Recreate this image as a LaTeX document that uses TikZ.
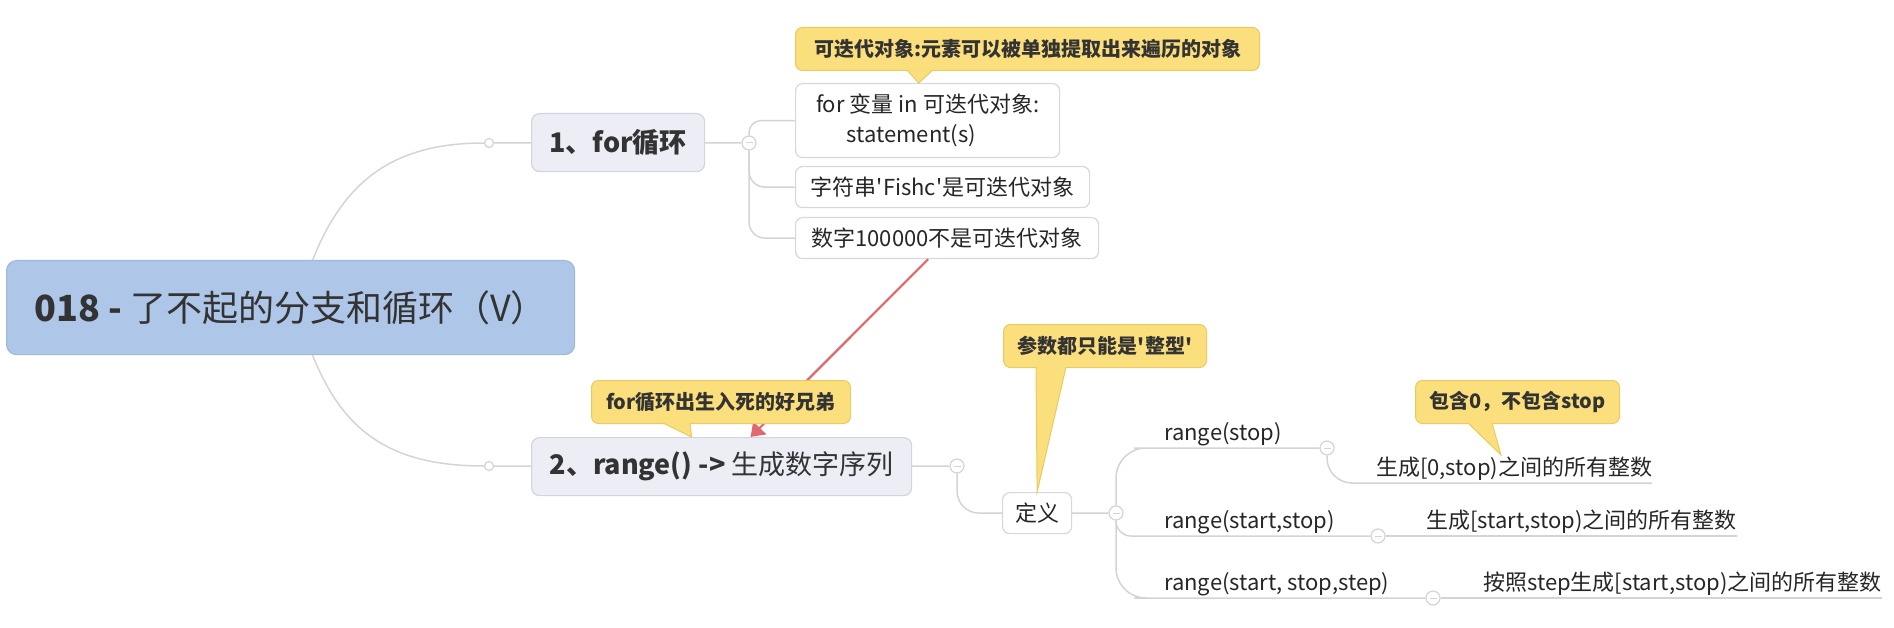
\documentclass[tikz,border=0pt]{standalone}
\usepackage{fontspec}
\setmainfont{Noto Sans CJK SC}
\usetikzlibrary{arrows.meta,positioning,calc}
\definecolor{TopicBlue}{HTML}{AEC6E8}
\definecolor{TopicBlueLine}{HTML}{A2B8DA}
\definecolor{MainGrey}{HTML}{EDEEF5}
\definecolor{MainLine}{HTML}{D3D4DC}
\definecolor{BoxLine}{HTML}{D8D8D8}
\definecolor{NoteYellow}{HTML}{FADF7C}
\definecolor{NoteLine}{HTML}{E9CB62}
\definecolor{BranchGrey}{HTML}{D4D4D4}
\definecolor{LinkRed}{HTML}{E2686F}
\definecolor{InkGrey}{HTML}{333333}

\begin{document}
\begin{tikzpicture}[x=1pt, y=-1pt,
  central/.style={draw=TopicBlueLine, fill=TopicBlue, rounded corners=10pt, line width=1.2pt, minimum width=568pt, minimum height=94pt, font=\fontsize{36}{40}\selectfont, text=InkGrey},
  maintopic/.style={draw=MainLine, fill=MainGrey, rounded corners=8pt, line width=1.2pt, minimum height=58pt, font=\fontsize{27}{32}\selectfont\bfseries, text=InkGrey},
  leaf/.style={draw=BoxLine, fill=white, rounded corners=7pt, line width=1.2pt, minimum height=41pt, font=\fontsize{22}{30}\selectfont, text=black!85},
  note/.style={draw=NoteLine, fill=NoteYellow, rounded corners=7pt, line width=1pt, minimum height=43pt, font=\fontsize{20}{24}\selectfont\bfseries, text=InkGrey},
  tail/.style={fill=NoteYellow, draw=NoteLine, line width=1pt},
  plain/.style={font=\fontsize{22}{26}\selectfont, text=black!85, inner xsep=0pt, inner ysep=2pt},
  branch/.style={draw=BranchGrey, line width=1.5pt},
  knot/.style={circle, draw=BranchGrey, fill=white, line width=1.2pt, minimum size=9pt, inner sep=0pt},
  fold/.style={circle, draw=BranchGrey, fill=white, line width=1.2pt, minimum size=14pt, inner sep=0pt,
    path picture={\draw[BranchGrey, line width=1pt] ([xshift=-3.5pt]path picture bounding box.center) -- ([xshift=3.5pt]path picture bounding box.center);}},
  link/.style={-{Triangle[length=13pt,width=18pt]}, draw=LinkRed, line width=2.2pt}
]
  \useasboundingbox (0,0) rectangle (1894,628);

  % central topic and the two main topics
  \node[central, anchor=north west] (root) at (6,260) {{\bfseries 018 -} 了不起的分支和循环（V）};
  \node[knot] (k1) at (489,143) {};
  \node[knot] (k2) at (489,466) {};
  \node[maintopic, anchor=north west, minimum width=173pt] (loop) at (531,113) {1、for循环};
  \node[maintopic, anchor=north west, minimum width=380pt] (range) at (531,437) {2、range() -> {\mdseries 生成数字序列}};
  \node[fold] (f1) at (749,143) {};
  \node[fold] (f2) at (957,466) {};
  \draw[branch] ([xshift=22pt]root.north) .. controls +(30,-75) and +(-95,0) .. (k1.west);
  \draw[branch] ([xshift=22pt]root.south) .. controls +(30,75) and +(-95,0) .. (k2.west);
  \draw[branch] (k1) -- (loop);
  \draw[branch] (k2) -- (range);
  \draw[branch] (loop) -- (f1);
  \draw[branch] (range) -- (f2);

  % for loop
  \node[leaf, anchor=north west, minimum width=264pt, minimum height=74pt, align=left] (syntax) at (795,83) {for 变量 in 可迭代对象:\\\hspace*{1.4em}statement(s)};
  \node[leaf, anchor=north west, minimum width=294pt] (strok) at (795,166) {字符串\textquotesingle Fishc\textquotesingle 是可迭代对象};
  \node[leaf, anchor=north west, minimum width=303pt] (numno) at (795,217) {数字100000不是可迭代对象};
  \draw[branch, rounded corners=12pt] (f1.north) |- (syntax.west);
  \draw[branch, rounded corners=16pt] (f1.south) |- (strok.west);
  \draw[branch, rounded corners=16pt] (f1.south) |- (numno.west);

  % range
  \node[leaf, anchor=north west, minimum width=69pt] (defn) at (1002,492) {定义};
  \node[fold] (f3) at (1116,513) {};
  \draw[branch, rounded corners=22pt] (f2.south) |- (defn.west);
  \draw[branch] (defn) -- (f3);
  \node[plain, anchor=south west] (rstop) at (1164,448) {range(stop)};
  \node[plain, anchor=south west] (rstart) at (1164,536) {range(start,stop)};
  \node[plain, anchor=south west] (rstep) at (1164,598) {range(start, stop,step)};
  \node[fold] (f4) at (1327,448) {};
  \node[fold] (f5) at (1378,536) {};
  \node[fold] (f6) at (1433,598) {};
  \draw[branch, rounded corners=30pt] (f3.north) |- (rstop.south west) -- (f4.west);
  \draw[branch, rounded corners=15pt] (f3.south) |- (rstart.south west) -- (f5.west);
  \draw[branch, rounded corners=30pt] (f3.south) |- (rstep.south west) -- (f6.west);
  \node[plain, anchor=south west] (gen1) at (1376,483) {生成[0,stop)之间的所有整数};
  \node[plain, anchor=south west] (gen2) at (1426,536) {生成[start,stop)之间的所有整数};
  \node[plain, anchor=south west] (gen3) at (1483,598) {按照step生成[start,stop)之间的所有整数};
  \draw[branch, rounded corners=25pt] (f4.south) |- (gen1.south west) -- (gen1.south east);
  \draw[branch] (f5.east) -- (gen2.south west) -- (gen2.south east);
  \draw[branch] (f6.east) -- (gen3.south west) -- (gen3.south east);

  % relation
  \draw[link] ([xshift=-19pt]numno.south) -- ([xshift=29pt]range.north);

  % notes
  \node[note, anchor=north west, minimum width=464pt] (itnote) at (795,27) {可迭代对象:元素可以被单独提取出来遍历的对象};
  \path[tail] ($(itnote.south west)+(112,-1)$) -- ([xshift=-9pt]syntax.north) -- ($(itnote.south west)+(138,-1)$);
  \node[note, anchor=north west, minimum width=259pt] (bronote) at (591,380) {for循环出生入死的好兄弟};
  \path[tail] ($(bronote.south west)+(72,-1)$) -- ([xshift=-30pt]range.north) -- ($(bronote.south west)+(99,-1)$);
  \node[note, anchor=north west, minimum width=203pt] (intnote) at (1003,324) {参数都只能是\textquotesingle 整型\textquotesingle};
  \path[tail] ($(intnote.south west)+(33,-1)$) -- (defn.north) -- ($(intnote.south west)+(63,-1)$);
  \node[note, anchor=north west, minimum width=204pt] (zeronote) at (1415,380) {包含0，不包含stop};
  \path[tail] ($(zeronote.south west)+(53,-1)$) -- ([xshift=125pt]gen1.north west) -- ($(zeronote.south west)+(77,-1)$);
\end{tikzpicture}
\end{document}
